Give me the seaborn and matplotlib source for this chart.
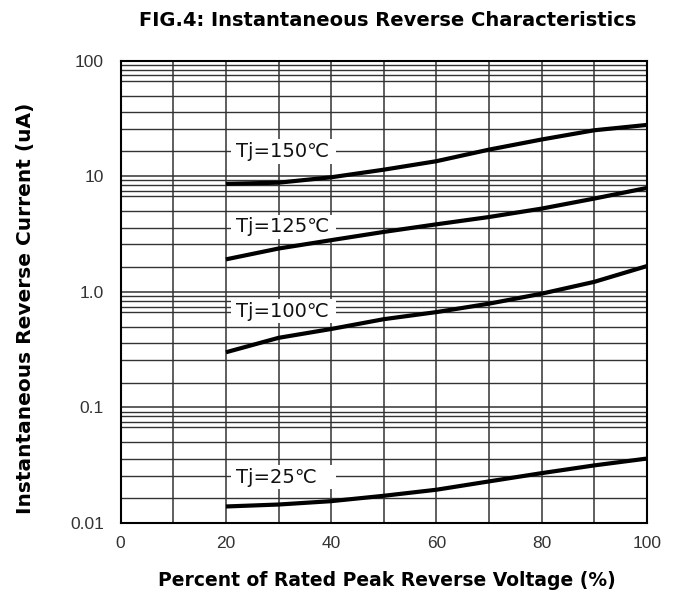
import numpy as np
import pandas as pd
import matplotlib
matplotlib.use("Agg")
import matplotlib.pyplot as plt
import seaborn as sns
from matplotlib.ticker import FixedLocator, NullFormatter
from matplotlib.patches import Rectangle

# Dados (percentual da tensão reversa x corrente em uA)
volt = [20, 30, 40, 50, 60, 70, 80, 90, 100]
tj150 = [8.6, 8.8, 9.8, 11.4, 13.5, 17.0, 20.8, 25.0, 27.8]
tj125 = [1.91, 2.37, 2.8, 3.3, 3.84, 4.44, 5.25, 6.41, 7.92]
tj100 = [0.30, 0.40, 0.477, 0.58, 0.668, 0.79, 0.964, 1.22, 1.67]
tj25 = [0.0139, 0.01445, 0.01545, 0.0172, 0.0194, 0.0229, 0.027, 0.0315, 0.0361]

series_names = ["Tj=150℃", "Tj=125℃", "Tj=100℃", "Tj=25℃"]
series_values = [tj150, tj125, tj100, tj25]

x_ticks = [0, 20, 40, 60, 80, 100]
y_ticks = [0.01, 0.1, 1.0, 10, 100]
y_tick_labels = ["0.01", "0.1", "1.0", "10", "100"]

sns.set_theme(style="white")
plt.rcParams['font.family'] = ['Liberation Sans', 'DejaVu Sans']
plt.rcParams['text.color'] = 'black'

df = pd.DataFrame({
    'volt': volt * len(series_names),
    'corrente': sum(series_values, []),
    'serie': np.repeat(series_names, len(volt)),
})

fig = plt.figure(figsize=(6.78, 5.95), dpi=100)
ax = fig.add_axes([0.178, 0.121, 0.776, 0.777])
ax.set_yscale('log')
ax.set_xlim(0, 100)
ax.set_ylim(0.01, 100)

# grade: verticais a cada 10%, horizontais no padrão do papel original
grid_color = '#333333'
for gx in range(10, 100, 10):
    ax.axvline(gx, color=grid_color, lw=1.1, zorder=1)
grid_fracs = [0.0364, 0.0771, 0.1273, 0.1732, 0.302, 0.444, 0.590, 0.785]
for d in [2, 1, 0, -1]:
    ax.axhline(10.0 ** d, color=grid_color, lw=1.1, zorder=1)
    for f in grid_fracs:
        ax.axhline(10.0 ** (d - f), color=grid_color, lw=1.0, zorder=1)

# caixas brancas dos rótulos
label_pos = {"Tj=150℃": 16.4, "Tj=125℃": 3.64, "Tj=100℃": 0.68, "Tj=25℃": 0.0249}
for name, yc in label_pos.items():
    h = 10 ** 0.105
    ax.add_patch(Rectangle((21.0, yc / h), 20.0, yc * h - yc / h,
                           facecolor='white', edgecolor='none', zorder=2))
    ax.text(22.0, yc, name, fontsize=14, family=['DejaVu Sans'],
            va='center', ha='left', color='#111111', zorder=3)

sns.lineplot(data=df, x='volt', y='corrente', hue='serie',
             palette=['black'] * 4, linewidth=3, legend=False, ax=ax,
             zorder=4, solid_capstyle='butt')

ax.set_xticks(x_ticks)
ax.set_xticklabels([str(v) for v in x_ticks])
ax.yaxis.set_major_locator(FixedLocator(y_ticks))
ax.set_yticklabels(y_tick_labels)
ax.yaxis.set_minor_locator(FixedLocator([]))
ax.yaxis.set_minor_formatter(NullFormatter())
ax.tick_params(axis='both', which='both', length=0, labelsize=12.5,
               labelcolor='#333333')
ax.tick_params(axis='y', pad=12)
ax.tick_params(axis='x', pad=9)
ax.set_xlabel('')
ax.set_ylabel('')

for sp in ax.spines.values():
    sp.set_color('black')
    sp.set_linewidth(1.5)
    sp.set_zorder(5)

fig.text(0.572, 0.966, 'FIG.4: Instantaneous Reverse Characteristics',
         fontsize=14, fontweight='bold', family=['DejaVu Sans'],
         ha='center', va='center', color='black')
fig.text(0.570, 0.025, 'Percent of Rated Peak Reverse Voltage (%)',
         fontsize=13.5, fontweight='bold', family=['DejaVu Sans'],
         ha='center', va='center', color='black')
fig.text(0.038, 0.481, 'Instantaneous Reverse Current (uA)',
         fontsize=14.5, fontweight='bold', family=['DejaVu Sans'],
         ha='center', va='center', rotation=90, color='black')

fig.savefig('out.png', dpi=100)
